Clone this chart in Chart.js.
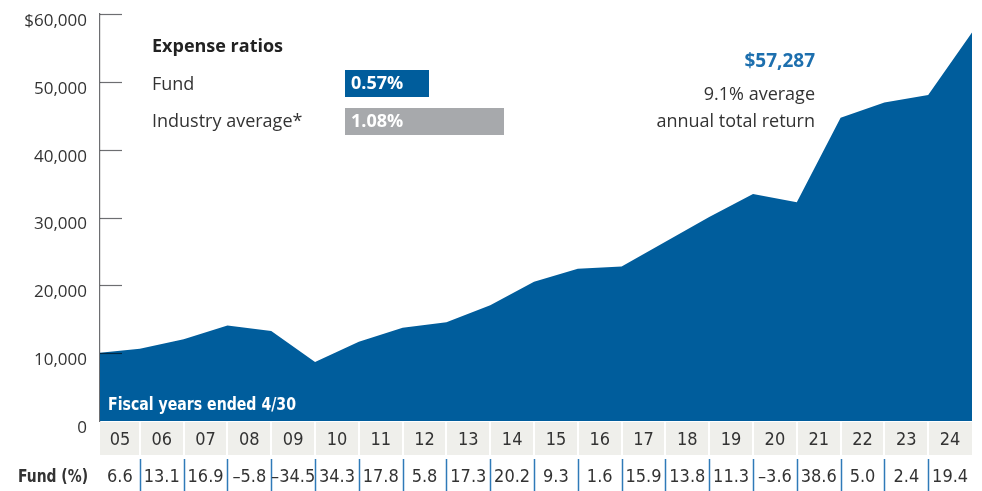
<!DOCTYPE html>
<html>
<head>
<meta charset="utf-8">
<script src="https://cdn.jsdelivr.net/npm/chart.js@4"></script>
<style>
  html, body { margin: 0; padding: 0; background: #fff; }
  #wrap { width: 982px; height: 491px; position: relative; }
</style>
</head>
<body>
<div id="wrap"><canvas id="chart"></canvas></div>
<script>
// value of $10,000 invested, start then each fiscal year end
const growth = [10000, 10660, 12056, 14094, 13276, 8696, 11679, 13758, 14556, 17074,
  20523, 22432, 22791, 26415, 30060, 33457, 32252, 44701, 46936, 48063, 57287];
const years = ['05', '06', '07', '08', '09', '10', '11', '12', '13', '14',
  '15', '16', '17', '18', '19', '20', '21', '22', '23', '24'];
const fundReturns = ['6.6', '13.1', '16.9', '–5.8', '–34.5', '34.3', '17.8', '5.8', '17.3', '20.2',
  '9.3', '1.6', '15.9', '13.8', '11.3', '–3.6', '38.6', '5.0', '2.4', '19.4'];
const yTicks = [0, 10000, 20000, 30000, 40000, 50000, 60000];
const expenseLabels = ['Fund', 'Industry average*'];
const expenseValues = ['0.57%', '1.08%'];
const endValue = '$57,287';
const endNote = ['9.1% average', 'annual total return'];

const BLUE = '#005d9c';
const TEXT = '#333333';
const SANS = '"Open Sans", Lato, sans-serif';
const NARROW = '"Liberation Sans Narrow", "DejaVu Sans Condensed", "Roboto Condensed", sans-serif';

// draw text squeezed to a given width (condensed look)
function narrowText(ctx, text, x, y, width, align) {
  const w = ctx.measureText(text).width;
  const k = Math.min(1, width / w);
  ctx.save();
  ctx.translate(x, y);
  ctx.scale(k, 1);
  ctx.textAlign = align;
  ctx.fillText(text, 0, 0);
  ctx.restore();
}

const extras = {
  id: 'extras',
  afterDatasetsDraw(chart) {
    const ctx = chart.ctx;
    const area = chart.chartArea;
    const xs = chart.scales.x;
    const ys = chart.scales.y;
    const edge = i => Math.max(area.left, Math.min(area.right, xs.getPixelForValue(i)));
    ctx.save();

    // inward tick marks on the value axis
    ctx.globalCompositeOperation = 'multiply';
    ctx.strokeStyle = '#6d6e71';
    ctx.lineWidth = 1.2;
    yTicks.forEach(v => {
      if (v === 0) return;
      const y = Math.round(ys.getPixelForValue(v)) + 0.5;
      ctx.beginPath();
      ctx.moveTo(area.left, y);
      ctx.lineTo(area.left + 22, y);
      ctx.stroke();
    });
    ctx.globalCompositeOperation = 'source-over';

    // label inside area
    ctx.fillStyle = '#fff';
    ctx.textBaseline = 'middle';
    ctx.font = 'bold 18px ' + NARROW;
    narrowText(ctx, 'Fiscal years ended 4/30', area.left + 8, 405, 188, 'left');

    // year band
    const bandTop = area.bottom + 1, bandBot = 455;
    ctx.fillStyle = '#efefeb';
    ctx.fillRect(area.left, bandTop, area.right - area.left, bandBot - bandTop);
    ctx.strokeStyle = '#fff';
    ctx.lineWidth = 2;
    for (let i = 1; i < years.length; i++) {
      const x = Math.round(edge(i));
      ctx.beginPath();
      ctx.moveTo(x, bandTop);
      ctx.lineTo(x, bandBot);
      ctx.stroke();
    }
    ctx.fillStyle = TEXT;
    ctx.font = '18px ' + NARROW;
    ctx.textAlign = 'center';
    years.forEach((yr, i) => {
      ctx.fillText(yr, (edge(i) + edge(i + 1)) / 2, 440);
    });

    // fund returns row
    ctx.strokeStyle = '#2f7ab8';
    ctx.lineWidth = 1.5;
    for (let i = 1; i < fundReturns.length; i++) {
      const x = Math.round(edge(i)) + 0.5;
      ctx.beginPath();
      ctx.moveTo(x, 459);
      ctx.lineTo(x, 491);
      ctx.stroke();
    }
    fundReturns.forEach((r, i) => {
      ctx.fillText(r, (edge(i) + edge(i + 1)) / 2, 477);
    });
    ctx.font = 'bold 18px ' + NARROW;
    narrowText(ctx, 'Fund (%)', 88, 477, 70, 'right');

    // expense ratios legend
    ctx.textAlign = 'left';
    ctx.fillStyle = '#222';
    ctx.font = 'bold 18px ' + SANS;
    ctx.fillText('Expense ratios', 152, 47);
    ctx.font = '18px ' + SANS;
    ctx.fillStyle = TEXT;
    ctx.fillText(expenseLabels[0], 152, 85);
    ctx.fillText(expenseLabels[1], 152, 122);
    ctx.fillStyle = BLUE;
    ctx.fillRect(345, 70, 84, 27);
    ctx.fillStyle = '#a7a9ac';
    ctx.fillRect(345, 108, 159, 27);
    ctx.fillStyle = '#fff';
    ctx.font = 'bold 18px ' + SANS;
    ctx.fillText(expenseValues[0], 351, 84);
    ctx.fillText(expenseValues[1], 351, 122);

    // end value note
    ctx.textAlign = 'right';
    ctx.fillStyle = '#1d6fae';
    ctx.font = 'bold 19px ' + SANS;
    ctx.fillText(endValue, 815, 62);
    ctx.fillStyle = TEXT;
    ctx.font = '18px ' + SANS;
    ctx.fillText(endNote[0], 815, 95);
    ctx.fillText(endNote[1], 815, 122);

    ctx.restore();
  }
};

new Chart(document.getElementById('chart'), {
  type: 'line',
  data: {
    datasets: [{
      data: growth.map((v, i) => ({ x: i, y: v })),
      fill: 'origin',
      backgroundColor: BLUE,
      borderWidth: 0,
      pointRadius: 0,
      tension: 0
    }]
  },
  options: {
    responsive: true,
    maintainAspectRatio: false,
    animation: false,
    layout: { padding: { top: 14, right: 10, bottom: 70, left: 0 } },
    plugins: { legend: { display: false }, tooltip: { enabled: false } },
    scales: {
      x: {
        type: 'linear',
        display: false,
        min: 0.09,
        max: 20
      },
      y: {
        min: 0,
        max: 60000,
        afterFit: s => { s.width = 100; s.paddingTop = 0; s.paddingBottom = 0; },
        afterBuildTicks: s => { s.ticks = yTicks.map(v => ({ value: v })); },
        grid: { display: false, drawTicks: false },
        border: { display: true, color: '#6d6e71', width: 1.2 },
        ticks: {
          padding: 13,
          labelOffset: 7,
          color: TEXT,
          font: { family: SANS, size: 17 },
          callback: v => (v === 60000 ? '$' : '') + v.toLocaleString('en-US')
        }
      }
    }
  },
  plugins: [extras]
});
</script>
</body>
</html>
